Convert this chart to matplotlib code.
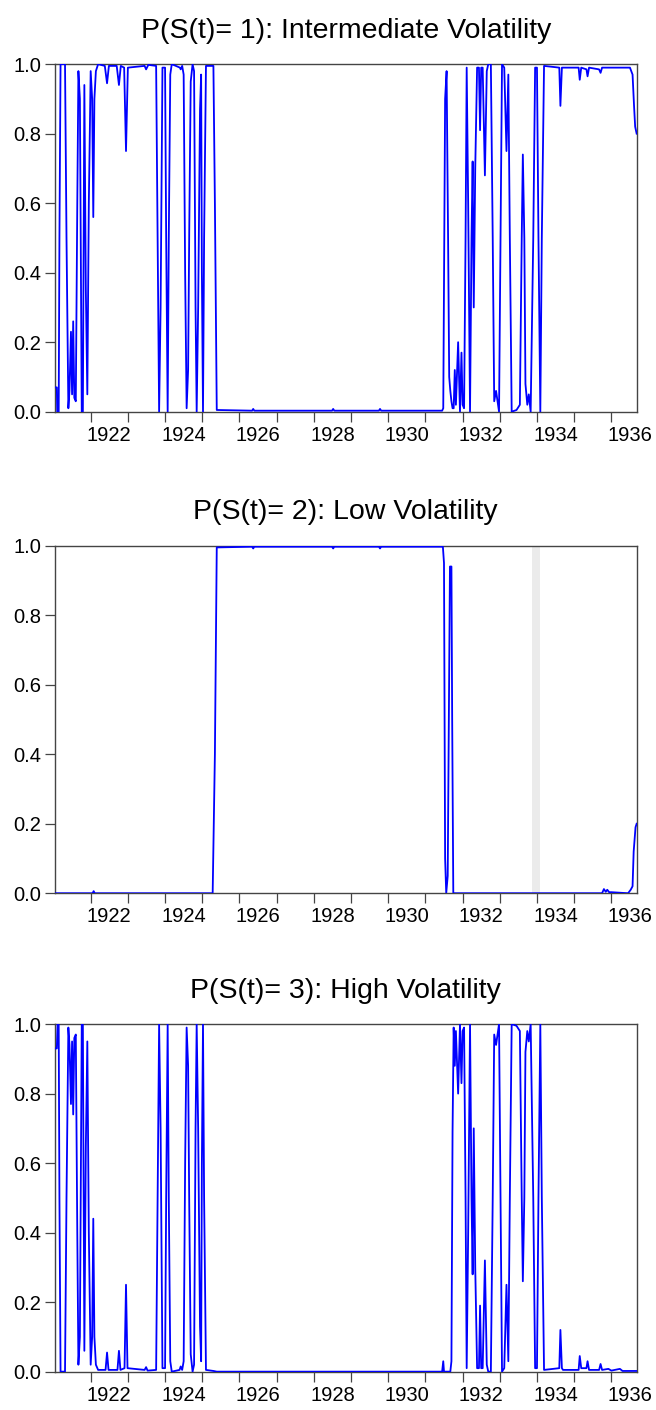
import matplotlib
matplotlib.use("Agg")
import matplotlib.pyplot as plt

plt.rcParams['font.family'] = ['Liberation Sans', 'DejaVu Sans']

# Regime probabilities (decimal years)
# P(S(t)=1): intermediate volatility
dates_mid = [1921.04, 1921.09, 1921.10, 1921.14, 1921.16, 1921.19, 1921.31, 1921.35, 1921.40, 1921.43,
             1921.47, 1921.50, 1921.53, 1921.56, 1921.60, 1921.64, 1921.67, 1921.71, 1921.76, 1921.79,
             1921.83, 1921.87, 1921.91, 1921.95, 1922.00, 1922.04, 1922.07, 1922.10, 1922.14, 1922.20,
             1922.38, 1922.44, 1922.49, 1922.70, 1922.76, 1922.81, 1922.90, 1922.95, 1923.00, 1923.45,
             1923.49, 1923.55, 1923.76, 1923.80, 1923.84, 1923.88, 1923.93, 1924.00, 1924.03, 1924.07,
             1924.10, 1924.14, 1924.18, 1924.40, 1924.42, 1924.46, 1924.50, 1924.54, 1924.58, 1924.62,
             1924.65, 1924.69, 1924.74, 1924.78, 1924.82, 1924.85, 1924.89, 1924.94, 1924.97, 1924.99,
             1925.02, 1925.05, 1925.10, 1925.30, 1925.34, 1925.39, 1926.34, 1926.37, 1926.40, 1928.49,
             1928.52, 1928.55, 1929.75, 1929.78, 1929.81, 1931.45, 1931.48, 1931.53, 1931.57, 1931.61,
             1931.64, 1931.67, 1931.70, 1931.73, 1931.76, 1931.79, 1931.82, 1931.88, 1931.93, 1931.97,
             1932.00, 1932.04, 1932.08, 1932.11, 1932.15, 1932.20, 1932.24, 1932.27, 1932.30, 1932.34,
             1932.39, 1932.44, 1932.47, 1932.50, 1932.54, 1932.60, 1932.65, 1932.69, 1932.76, 1932.81,
             1932.85, 1932.90, 1932.94, 1932.98, 1933.02, 1933.06, 1933.12, 1933.18, 1933.23, 1933.27,
             1933.32, 1933.45, 1933.54, 1933.59, 1933.62, 1933.66, 1933.69, 1933.74, 1933.78, 1933.83,
             1933.90, 1933.95, 1934.00, 1934.04, 1934.09, 1934.13, 1934.19, 1934.60, 1934.63, 1934.67,
             1935.12, 1935.15, 1935.19, 1935.33, 1935.36, 1935.40, 1935.67, 1935.71, 1935.75, 1936.50,
             1936.57, 1936.61, 1936.64, 1936.68]
p_mid = [0.07, 0.07, 0.0, 0.0, 0.5, 1.0, 1.0, 0.5, 0.01, 0.06,
         0.23, 0.05, 0.26, 0.04, 0.03, 0.6, 0.98, 0.9, 0.0, 0.0,
         0.94, 0.35, 0.05, 0.6, 0.98, 0.9, 0.56, 0.9, 0.98, 1.0,
         0.995, 0.945, 0.995, 0.995, 0.94, 0.995, 0.99, 0.75, 0.99, 0.995,
         0.985, 0.998, 0.995, 0.5, 0.0, 0.3, 0.99, 0.99, 0.5, 0.0,
         0.5, 0.97, 1.0, 0.99, 0.985, 0.995, 0.97, 0.4, 0.01, 0.12,
         0.52, 0.95, 1.0, 0.98, 0.3, 0.0, 0.3, 0.87, 0.97, 0.4,
         0.0, 0.5, 0.995, 0.995, 0.6, 0.005, 0.003, 0.008, 0.003, 0.003,
         0.008, 0.003, 0.003, 0.008, 0.003, 0.003, 0.01, 0.9, 0.98, 0.5,
         0.1, 0.06, 0.03, 0.01, 0.01, 0.12, 0.02, 0.2, 0.0, 0.17,
         0.02, 0.01, 0.5, 0.99, 0.6, 0.0, 0.5, 0.72, 0.3, 0.7,
         0.99, 0.99, 0.81, 0.99, 0.99, 0.68, 0.98, 1.0, 1.0, 0.5,
         0.03, 0.06, 0.03, 0.0, 0.5, 1.0, 0.99, 0.75, 0.97, 0.5,
         0.0, 0.005, 0.02, 0.5, 0.74, 0.5, 0.08, 0.02, 0.05, 0.0,
         0.5, 0.99, 0.99, 0.5, 0.0, 0.5, 0.995, 0.99, 0.88, 0.99,
         0.99, 0.955, 0.99, 0.985, 0.965, 0.99, 0.985, 0.975, 0.99, 0.99,
         0.97, 0.88, 0.82, 0.80]

# P(S(t)=2): low volatility
dates_low = [1921.04, 1922.05, 1922.08, 1922.11, 1925.28, 1925.34, 1925.39, 1926.34, 1926.37, 1926.40,
             1928.49, 1928.52, 1928.55, 1929.75, 1929.78, 1929.81, 1931.47, 1931.50, 1931.53, 1931.56,
             1931.60, 1931.66, 1931.70, 1931.72, 1931.75, 1935.75, 1935.80, 1935.85, 1935.89, 1935.94,
             1936.00, 1936.45, 1936.52, 1936.57, 1936.60, 1936.65, 1936.68]
p_low = [0.0, 0.0, 0.006, 0.0, 0.0, 0.4, 0.995, 0.997, 0.992, 0.997,
         0.997, 0.992, 0.997, 0.997, 0.992, 0.997, 0.997, 0.95, 0.1, 0.0,
         0.05, 0.94, 0.94, 0.5, 0.0, 0.0, 0.012, 0.004, 0.01, 0.003,
         0.003, 0.0, 0.01, 0.02, 0.12, 0.19, 0.2]

# P(S(t)=3): high volatility
dates_high = [1921.04, 1921.09, 1921.11, 1921.14, 1921.16, 1921.19, 1921.31, 1921.35, 1921.40, 1921.43,
              1921.47, 1921.50, 1921.53, 1921.56, 1921.60, 1921.64, 1921.67, 1921.71, 1921.76, 1921.79,
              1921.83, 1921.87, 1921.91, 1921.95, 1922.00, 1922.04, 1922.07, 1922.10, 1922.14, 1922.20,
              1922.40, 1922.44, 1922.48, 1922.72, 1922.76, 1922.80, 1922.91, 1922.95, 1922.99, 1923.45,
              1923.49, 1923.53, 1923.76, 1923.80, 1923.84, 1923.88, 1923.93, 1924.00, 1924.03, 1924.07,
              1924.10, 1924.14, 1924.18, 1924.39, 1924.42, 1924.46, 1924.50, 1924.54, 1924.58, 1924.62,
              1924.65, 1924.69, 1924.74, 1924.78, 1924.82, 1924.85, 1924.89, 1924.94, 1924.97, 1924.99,
              1925.02, 1925.05, 1925.10, 1925.30, 1925.39, 1931.45, 1931.48, 1931.50, 1931.67, 1931.70,
              1931.73, 1931.76, 1931.79, 1931.82, 1931.88, 1931.93, 1931.97, 1932.00, 1932.04, 1932.08,
              1932.11, 1932.15, 1932.20, 1932.24, 1932.27, 1932.30, 1932.34, 1932.39, 1932.44, 1932.47,
              1932.50, 1932.54, 1932.60, 1932.65, 1932.69, 1932.76, 1932.81, 1932.85, 1932.90, 1932.94,
              1932.98, 1933.02, 1933.06, 1933.12, 1933.18, 1933.23, 1933.27, 1933.32, 1933.45, 1933.54,
              1933.59, 1933.62, 1933.66, 1933.69, 1933.74, 1933.78, 1933.83, 1933.90, 1933.95, 1934.00,
              1934.04, 1934.09, 1934.13, 1934.19, 1934.60, 1934.63, 1934.67, 1934.70, 1935.12, 1935.15,
              1935.19, 1935.33, 1935.36, 1935.40, 1935.67, 1935.71, 1935.75, 1935.92, 1936.00, 1936.23,
              1936.30, 1936.68]
p_high = [0.93, 0.93, 1.0, 1.0, 0.5, 0.0, 0.0, 0.5, 0.99, 0.94,
          0.77, 0.95, 0.74, 0.96, 0.97, 0.4, 0.02, 0.1, 1.0, 1.0,
          0.06, 0.65, 0.95, 0.4, 0.02, 0.1, 0.44, 0.1, 0.02, 0.005,
          0.005, 0.055, 0.005, 0.005, 0.06, 0.005, 0.01, 0.25, 0.01, 0.005,
          0.013, 0.003, 0.005, 0.5, 1.0, 0.7, 0.01, 0.01, 0.5, 1.0,
          0.5, 0.03, 0.0, 0.005, 0.015, 0.005, 0.03, 0.6, 0.99, 0.88,
          0.48, 0.05, 0.0, 0.02, 0.7, 1.0, 0.7, 0.13, 0.03, 0.6,
          1.0, 0.5, 0.005, 0.002, 0.0, 0.0, 0.03, 0.0, 0.0, 0.03,
          0.69, 0.99, 0.88, 0.98, 0.8, 1.0, 0.83, 0.98, 0.99, 0.5,
          0.01, 0.4, 1.0, 0.5, 0.28, 0.7, 0.3, 0.01, 0.01, 0.19,
          0.01, 0.01, 0.32, 0.02, 0.0, 0.0, 0.5, 0.97, 0.94, 0.97,
          1.0, 0.5, 0.0, 0.01, 0.25, 0.03, 0.5, 1.0, 0.995, 0.98,
          0.5, 0.26, 0.5, 0.92, 0.98, 0.95, 1.0, 0.5, 0.01, 0.01,
          0.5, 1.0, 0.5, 0.005, 0.01, 0.12, 0.01, 0.005, 0.005, 0.045,
          0.01, 0.01, 0.03, 0.005, 0.005, 0.022, 0.005, 0.008, 0.003, 0.008,
          0.002, 0.002]

titles = ["P(S(t)= 1): Intermediate Volatility",
          "P(S(t)= 2): Low Volatility",
          "P(S(t)= 3): High Volatility"]
year_ticks = list(range(1922, 1937))
label_years = list(range(1922, 1937, 2))
y_ticks = [0.0, 0.2, 0.4, 0.6, 0.8, 1.0]
shade_low = [(1921.04, 1921.07), (1933.87, 1934.08)]

fig = plt.figure(figsize=(6.56, 14.10), dpi=100)
bottoms = [0.708, 0.3665, 0.0272]
series = [(dates_mid, p_mid), (dates_low, p_low), (dates_high, p_high)]

for i in range(3):
    ax = fig.add_axes([0.0838, bottoms[i], 0.8867, 0.2465])
    if i == 1:
        for a, b in shade_low:
            ax.axvspan(a, b, color='#ebebeb', lw=0, zorder=0)
    x, y = series[i]
    ax.plot(x, y, color='#0000ff', lw=1.3, zorder=3)
    ax.set_xlim(1921.04, 1936.68)
    ax.set_ylim(0.0, 1.0)
    ax.set_title(titles[i], fontsize=20.5, pad=19)

    ax.set_yticks(y_ticks)
    ax.set_yticklabels(["%.1f" % v for v in y_ticks])
    ax.set_xticks(year_ticks)
    ax.set_xticklabels([])
    ax.set_xticks([yr + 0.5 for yr in label_years], minor=True)
    ax.set_xticklabels([str(yr) for yr in label_years], minor=True)
    ax.tick_params(axis='x', which='major', direction='out', length=7, width=0.9, color='#444444')
    ax.tick_params(axis='x', which='minor', length=0, labelsize=14.5, pad=10)
    ax.tick_params(axis='y', direction='out', length=7, width=0.9, color='#444444', labelsize=14.5, pad=3)
    for s in ax.spines.values():
        s.set_color('#444444')
        s.set_linewidth(1.0)

fig.savefig('out.png', dpi=100)
